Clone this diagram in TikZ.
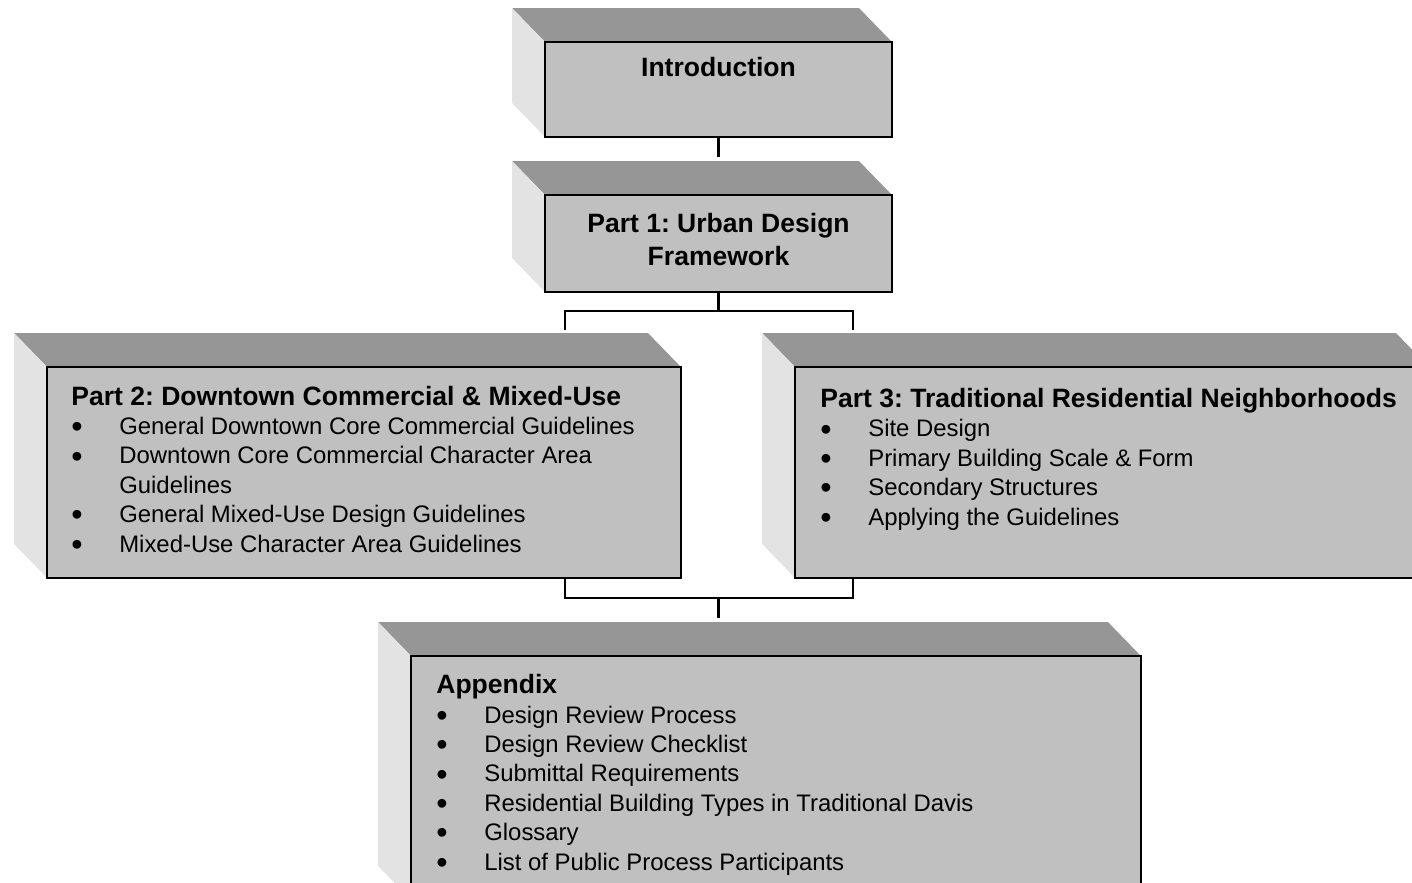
\documentclass[tikz,border=0pt]{standalone}
\usepackage{fontspec}
\setmainfont{Liberation Sans}
\usepackage{graphicx}
\usepackage{tikz}
\usetikzlibrary{calc}
\usetikzlibrary{positioning}
\definecolor{frontgray}{RGB}{192,192,192}
\definecolor{topgray}{RGB}{150,150,150}
\definecolor{sidegray}{RGB}{227,227,227}
\frenchspacing

% bullet with hanging indent, bold heading
\newcommand{\itm}{\makebox[27.3pt][l]{\raisebox{-1.8pt}{\scalebox{1.35}{\textbullet}}}}
\newcommand{\hd}[1]{{\fontsize{15.1}{16.7}\selectfont\bfseries #1}}
% top and left faces of a raised box, then its outline again
\newcommand{\slab}[1]{%
	\fill[topf] (#1.north west) -- ++(-33,-34) -- ($(#1.north east)+(-33,-34)$) -- (#1.north east) -- cycle;
	\fill[sidef] (#1.north west) -- ++(-33,-34) -- ($(#1.south west)+(-33,-34)$) -- (#1.south west) -- cycle;
	\draw[edge] (#1.north west) rectangle (#1.south east);
}

\begin{document}
\begin{tikzpicture}[
			x=0.02cm, y=-0.02cm,
			front/.style={draw=black,line width=1.1pt,fill=frontgray,inner sep=0pt,outer sep=0pt},
			edge/.style={draw=black,line width=1.1pt},
			topf/.style={fill=topgray},
			sidef/.style={fill=sidegray},
			conn/.style={black,line width=1.2pt},
			ttl/.style={font=\fontsize{15.1}{18.7}\selectfont\bfseries,inner sep=0pt},
			lst/.style={align=left,inner sep=0pt,anchor=base west,font=\fontsize{13.6}{16.7}\selectfont}
		]
		\useasboundingbox (0,0) rectangle (1412,882);
		\clip (0,0) rectangle (1412,882);

		% Front faces
		\node[front,minimum width=6.94cm,minimum height=1.90cm] (intro) at (718.5,89.5) {};
		\node[front,minimum width=6.94cm,minimum height=1.94cm] (p1) at (718.5,243.5) {};
		\node[front,minimum width=12.68cm,minimum height=4.22cm] (p2) at (364,472.5) {};
		\node[front,minimum width=12.68cm,minimum height=4.22cm] (p3) at (1112,472.5) {};
		\node[front,minimum width=14.6cm,minimum height=4.88cm] (appx) at (776,778) {};

		\foreach \b in {intro,p1,p2,p3,appx} {\slab{\b}}

		% Texts (base = last line)
		\node[ttl,anchor=base] (introt) at (718.5,77) {Introduction};
		\node[ttl,anchor=base,align=center] (p1t) at (718.5,265) {Part 1: Urban Design\\Framework};
		\node[lst] (p2t) at (71,552) {\hd{Part 2: Downtown Commercial \& Mixed-Use}\\
			\itm General Downtown Core Commercial Guidelines\\
			\itm Downtown Core Commercial Character Area\\
			\hspace*{27.3pt}Guidelines\\
			\itm General Mixed-Use Design Guidelines\\
			\itm Mixed-Use Character Area Guidelines};
		\node[lst] (p3t) at (820,525) {\hd{Part 3: Traditional Residential Neighborhoods}\\
			\itm Site Design\\
			\itm Primary Building Scale \& Form\\
			\itm Secondary Structures\\
			\itm Applying the Guidelines};
		\node[lst] (appxt) at (436,870) {\hd{Appendix}\\
			\itm Design Review Process\\
			\itm Design Review Checklist\\
			\itm Submittal Requirements\\
			\itm Residential Building Types in Traditional Davis\\
			\itm Glossary\\
			\itm List of Public Process Participants};

		% Connectors
		\coordinate (p1in) at (718.5,157);
		\coordinate (split) at (718.5,311);
		\coordinate (p2in) at (565,330);
		\coordinate (p3in) at (853,330);
		\coordinate (join) at (718.5,598);
		\coordinate (appxin) at (718.5,618);

		\draw[conn] (intro.south) -- (p1in);
		\draw[conn] (p1.south) -- (split);
		\draw[conn] (p2in) |- (split) -| (p3in);
		\draw[conn] (p2.south -| p2in) |- (join) -| (p3.south -| p3in);
		\draw[conn] (join) -- (appxin);

	\end{tikzpicture}
\end{document}
